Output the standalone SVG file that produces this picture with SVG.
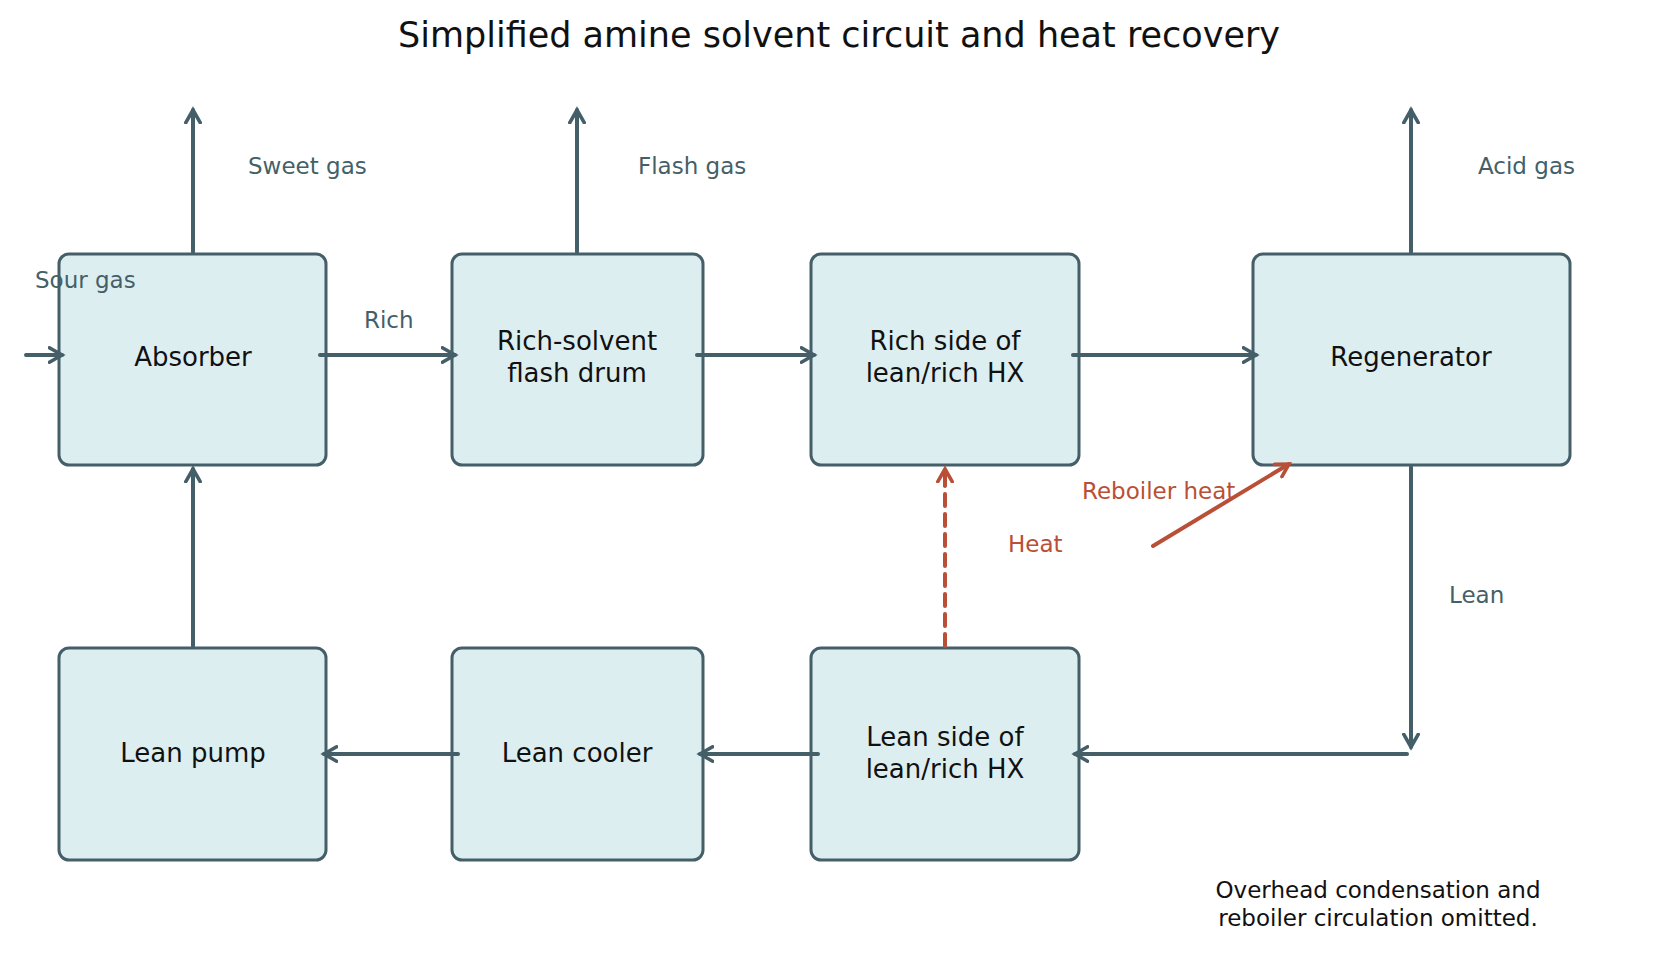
<svg xmlns="http://www.w3.org/2000/svg" width="1669" height="977" viewBox="0 0 1669 977">
<style>
.n{fill:#ddeef1;stroke:#455f69;stroke-width:3}
.t{font-family:"DejaVu Sans",sans-serif;font-size:26px;fill:#111;text-anchor:middle}
.l{font-family:"DejaVu Sans",sans-serif;font-size:23px;fill:#455f69}
.r{fill:#b94f36}
.c{stroke:#455f69;stroke-width:4;fill:none;stroke-linecap:round;marker-end:url(#a)}
.h{stroke:#b94f36;stroke-width:4;fill:none;stroke-linecap:round;marker-end:url(#b)}
</style>
<defs>
<marker id="a" viewBox="0 0 10 10" refX="8" refY="5" markerWidth="4.5" markerHeight="4.5" orient="auto"><path d="M1,1L8,5L1,9" fill="none" stroke="#455f69" stroke-width="2" stroke-linecap="round"/></marker>
<marker id="b" viewBox="0 0 10 10" refX="8" refY="5" markerWidth="4.5" markerHeight="4.5" orient="auto"><path d="M1,1L8,5L1,9" fill="none" stroke="#b94f36" stroke-width="2" stroke-linecap="round"/></marker>
</defs>
<rect width="1669" height="977" fill="#fff"/>
<text x="839" y="47" font-family="DejaVu Sans,sans-serif" font-size="35" text-anchor="middle" fill="#111">Simplified amine solvent circuit and heat recovery</text>
<g id="absorber"><rect class="n" x="59" y="254" width="267" height="211" rx="10"/><text class="t" x="193" y="366">Absorber</text></g>
<g id="flash"><rect class="n" x="452" y="254" width="251" height="211" rx="10"/><text class="t" x="577" y="350">Rich-solvent</text><text class="t" x="577" y="382">flash drum</text></g>
<g id="richhx"><rect class="n" x="811" y="254" width="268" height="211" rx="10"/><text class="t" x="945" y="350">Rich side of</text><text class="t" x="945" y="382">lean/rich HX</text></g>
<g id="regen"><rect class="n" x="1253" y="254" width="317" height="211" rx="10"/><text class="t" x="1411" y="366">Regenerator</text></g>
<g id="pump"><rect class="n" x="59" y="648" width="267" height="212" rx="10"/><text class="t" x="193" y="762">Lean pump</text></g>
<g id="cooler"><rect class="n" x="452" y="648" width="251" height="212" rx="10"/><text class="t" x="577" y="762">Lean cooler</text></g>
<g id="leanhx"><rect class="n" x="811" y="648" width="268" height="212" rx="10"/><text class="t" x="945" y="746">Lean side of</text><text class="t" x="945" y="778">lean/rich HX</text></g>
<g id="connectors">
<path class="c" d="M193,252V110"/><path class="c" d="M577,252V110"/><path class="c" d="M1411,252V110"/>
<path class="c" d="M26,355H62"/><path class="c" d="M320,355H455"/><path class="c" d="M697,355H814"/><path class="c" d="M1073,355H1256"/>
<path class="c" d="M1411,467V747"/><path class="c" d="M1407,754H1075"/><path class="c" d="M818,754H700"/><path class="c" d="M458,754H324"/><path class="c" d="M193,646V469"/>
<path class="h" d="M945,646V469" stroke-dasharray="12,8"/>
<path class="h" d="M1153,546L1289,464"/>
</g>
<text class="l" x="248" y="174">Sweet gas</text><text class="l" x="638" y="174">Flash gas</text><text class="l" x="1478" y="174">Acid gas</text>
<text class="l" x="35" y="288">Sour gas</text><text class="l" x="364" y="328">Rich</text><text class="l" x="1449" y="603">Lean</text>
<text class="l r" x="1008" y="552">Heat</text><text class="l r" x="1082" y="499">Reboiler heat</text>
<text class="t" x="1378" y="898" style="font-size:23px">Overhead condensation and</text><text class="t" x="1378" y="926" style="font-size:23px">reboiler circulation omitted.</text>
</svg>
